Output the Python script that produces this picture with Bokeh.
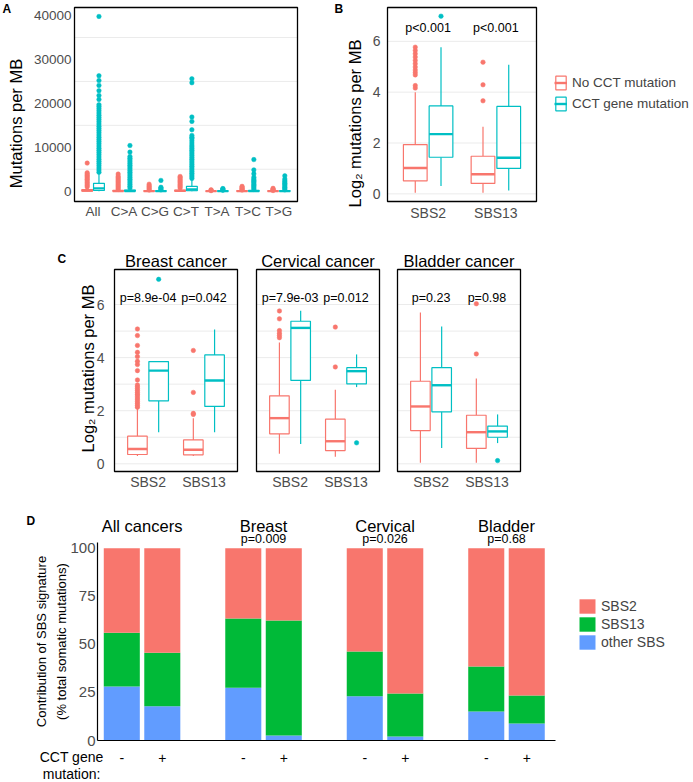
from bokeh.plotting import figure
from bokeh.models import ColumnDataSource, FixedTicker, Legend, LegendItem, Range1d
from bokeh.layouts import column, row
from bokeh.embed import file_html
from bokeh.resources import INLINE
from bokeh.core.properties import value

FONT = "Liberation Sans"
RED = "#F8766D"
TEAL = "#00BFC4"
GREEN = "#00BA38"
BLUE = "#619CFF"
GRID = "#EBEBEB"
TICK = "#4D4D4D"

# ---------------- Panel A data (mutations per MB) ----------------
a_cats = ["All", "C>A", "C>G", "C>T", "T>A", "T>C", "T>G"]
a_no_q1 = [30, 0, 0, 0, 0, 0, 0]
a_no_med = [120, 30, 20, 60, 10, 20, 10]
a_no_q3 = [350, 150, 80, 250, 40, 80, 50]
a_no_lo = [0, 0, 0, 0, 0, 0, 0]
a_no_hi = [800, 350, 200, 600, 100, 200, 120]
a_no_out = [
    [950, 1300, 1650, 2000, 2350, 2700, 3000, 3300, 3600, 3900, 4200, 6400],
    [400, 700, 1000, 1300, 1600, 1900, 2200, 2500, 2800, 3100, 3400, 3900],
    [250, 500, 750, 1000, 1250, 1600],
    [700, 1000, 1300, 1600, 1900, 2200, 2500, 2800, 3100, 3350],
    [130, 200, 300],
    [250, 450, 650, 850, 1100],
    [150, 300, 450, 650],
]
a_cct_q1 = [150, 0, 0, 100, 0, 0, 0]
a_cct_med = [650, 50, 20, 400, 20, 30, 20]
a_cct_q3 = [1800, 250, 100, 1100, 60, 150, 100]
a_cct_lo = [0, 0, 0, 0, 0, 0, 0]
a_cct_hi = [4000, 600, 250, 2700, 150, 350, 250]
a_cct_out = [
    [4300, 4800, 5300, 5800, 6300, 6800, 7300, 7800, 8300, 8800, 9300, 9800,
     10300, 10800, 11300, 11800, 12300, 12800, 13300, 13800, 14300, 14800,
     15300, 15800, 16300, 16800, 17300, 17800, 18300, 18800, 19300, 19700,
     20900, 21800, 22900, 24100, 25200, 26300, 39800],
    [700, 1100, 1500, 1900, 2300, 2700, 3100, 3500, 3900, 4300, 4700, 5100,
     5500, 5900, 6300, 6700, 7100, 7500, 7900, 8900, 10400],
    [300, 500, 700, 900, 2450],
    [2900, 3300, 3700, 4100, 4500, 4900, 5300, 5700, 6100, 6500, 6900, 7300,
     7700, 8100, 8500, 8900, 9300, 9700, 10100, 10500, 11000, 11500, 12000,
     12300, 12700, 14000, 15900, 16900, 24700, 25600],
    [200, 350, 500, 600],
    [400, 700, 1000, 1300, 1600, 1900, 2200, 2500, 2800, 3200, 3950, 4850, 7200],
    [300, 600, 900, 1200, 1500, 1800, 2100, 2400, 2800, 3500],
]

# ---------------- Panel B data (log2 mutations per MB) ----------------
b_cats = ["SBS2", "SBS13"]
b_groups = ["No CCT mutation", "CCT gene mutation"]
b_p = ["p<0.001", "p<0.001"]
b_no_q1 = [0.51, 0.41]
b_no_med = [1.02, 0.77]
b_no_q3 = [1.94, 1.48]
b_no_lo = [0.04, 0.04]
b_no_hi = [4.0, 2.64]
b_no_out = [[4.16, 4.26, 4.68, 4.77, 4.87, 4.99, 5.12, 5.25, 5.38, 5.51, 5.64, 5.77],
            [3.66, 4.29, 5.18]]
b_cct_q1 = [1.44, 1.0]
b_cct_med = [2.35, 1.42]
b_cct_q3 = [3.46, 3.44]
b_cct_lo = [0.31, 0.13]
b_cct_hi = [5.77, 5.08]
b_cct_out = [[6.99], []]

# ---------------- Panel C data (per cancer type) ----------------
c_titles = ["Breast cancer", "Cervical cancer", "Bladder cancer"]
c_p = [["p=8.9e-04", "p=0.042"], ["p=7.9e-03", "p=0.012"], ["p=0.23", "p=0.98"]]
c_no_q1 = [[0.35, 0.34], [1.13, 0.50], [1.25, 0.58]]
c_no_med = [[0.56, 0.53], [1.72, 0.85], [2.16, 1.19]]
c_no_q3 = [[1.04, 0.90], [2.56, 1.68], [3.11, 1.83]]
c_no_lo = [[0.29, 0.29], [0.38, 0.27], [0.04, 0.04]]
c_no_hi = [[2.08, 1.72], [4.57, 2.79], [5.70, 3.21]]
c_no_out = [
    [[2.13, 2.2, 2.27, 2.34, 2.41, 2.48, 2.55, 2.62, 2.69, 2.76, 2.83, 2.9, 2.97,
      3.16, 3.51, 3.74, 3.86, 4.04, 4.2, 4.46, 4.83, 5.08],
     [1.86, 1.9, 2.69, 4.27]],
    [[4.75, 4.83, 4.92, 5.02, 5.46, 5.76], [3.65, 5.15]],
    [[], [4.14, 6.03]],
]
c_cct_q1 = [[2.37, 2.16], [3.14, 3.01], [1.96, 1.00]]
c_cct_med = [[3.51, 3.14], [5.12, 3.49], [2.96, 1.22]]
c_cct_q3 = [[3.85, 4.10], [5.37, 3.62], [3.62, 1.42]]
c_cct_lo = [[1.19, 1.19], [0.75, 2.89], [0.60, 0.78]]
c_cct_hi = [[3.85, 5.06], [5.77, 4.12], [5.17, 1.86]]
c_cct_out = [[[6.95], []], [[], [0.79]], [[], [0.12]]]

# ---------------- Panel D data (% of total somatic mutations) ----------------
d_groups = ["All cancers", "Breast", "Cervical", "Bladder"]
d_pvals = ["", "p=0.009", "p=0.026", "p=0.68"]
d_status = ["-", "+"]
d_series = ["SBS2", "SBS13", "other SBS"]
d_other = [28.1, 17.8, 27.4, 2.6, 23.0, 2.1, 15.1, 8.8]
d_sbs13 = [27.9, 27.8, 36.0, 59.8, 23.3, 22.3, 23.4, 14.6]
d_sbs2 = [44.0, 54.4, 36.6, 37.6, 53.7, 75.6, 61.5, 76.6]

DODGE = 0.19
BOXW = 0.35


def full_ranges(W, H, pl, pr, pt, pb, x0, x1, y0, y1):
    """Ranges for a figure whose frame is the whole canvas, so that the data
    box [x0,x1]x[y0,y1] lands on the pixel box (pl..pr, pt..pb)."""
    sx = (pr - pl) / (x1 - x0)
    sy = (pb - pt) / (y1 - y0)
    return Range1d(x0 - pl / sx, x1 + (W - pr) / sx), Range1d(y0 - (H - pb) / sy, y1 + pt / sy)


def px2data(p, W, H, px, py):
    xr, yr = p.x_range, p.y_range
    return (xr.start + px / W * (xr.end - xr.start), yr.end - py / H * (yr.end - yr.start))


def make_fig(W, H, xr, yr):
    p = figure(width=W, height=H, x_range=xr, y_range=yr, title=None,
               output_backend="svg", toolbar_location=None,
               min_border_left=0, min_border_right=0, min_border_top=0, min_border_bottom=0)
    p.background_fill_color = "white"
    p.border_fill_color = "white"
    p.outline_line_color = None
    p.grid.visible = False
    for ax in (p.xaxis[0], p.yaxis[0]):
        ax.major_tick_line_color = None
        ax.minor_tick_line_color = None
        ax.major_tick_out = 0
        ax.major_tick_in = 0
        ax.minor_tick_out = 0
        ax.minor_tick_in = 0
        ax.axis_line_color = None
        ax.major_label_text_font = FONT
        ax.major_label_text_color = TICK
        ax.axis_label_text_font = FONT
        ax.axis_label_text_font_style = "normal"
        ax.axis_label_text_color = "black"
        ax.axis_label_text_font_size = "16.5px"
    return p


def hgrid(p, x0, x1, ticks):
    p.segment(x0=[x0] * len(ticks), y0=ticks, x1=[x1] * len(ticks), y1=ticks,
              line_color=GRID, line_width=1)


def border(p, x0, x1, y0, y1):
    p.quad(left=[x0], right=[x1], bottom=[y0], top=[y1], fill_color=None,
           line_color="black", line_width=1.3)


def boxes(p, centers, q1, med, q3, lo, hi, outs, color, lw=1.2, dot=4.5):
    xl = [c - BOXW / 2 for c in centers]
    xr = [c + BOXW / 2 for c in centers]
    src = ColumnDataSource(dict(x=centers, xl=xl, xr=xr, q1=q1, med=med, q3=q3, lo=lo, hi=hi))
    ox = [c for c, o in zip(centers, outs) for _ in o]
    oy = [v for o in outs for v in o]
    p.scatter(x=ox, y=oy, size=dot, fill_color=color, line_color=color, line_width=0.5)
    p.segment(x0="x", y0="lo", x1="x", y1="q1", source=src, line_color=color, line_width=lw)
    p.segment(x0="x", y0="q3", x1="x", y1="hi", source=src, line_color=color, line_width=lw)
    rq = p.quad(left="xl", right="xr", bottom="q1", top="q3", source=src,
                fill_color="white", line_color=color, line_width=lw)
    rm = p.segment(x0="xl", y0="med", x1="xr", y1="med", source=src,
                   line_color=color, line_width=lw * 2)
    return rq, rm


def text(p, xs, ys, texts, size, align="center", bold=False, baseline="middle"):
    p.text(x=xs, y=ys, text=texts, text_font=value(FONT), text_font_size=size,
           text_font_style="bold" if bold else "normal", text_align=align,
           text_baseline=baseline, text_color="black")


def letter(p, W, H, px, py, txt):
    x, y = px2data(p, W, H, px, py)
    text(p, [x], [y], [txt], "12px", align="left", bold=True)


# ================= Panel A =================
WA, HA = 300, 246
xrA, yrA = full_ranges(WA, HA, 74, 297, 7, 201, 0.4, 7.6, -2350, 41840)
pA = make_fig(WA, HA, xrA, yrA)
nA = len(a_cats)
hgrid(pA, 0.4, 7.6, [5000, 15000, 25000, 35000])
pA.yaxis.fixed_location = 0.4
pA.xaxis.fixed_location = -2350
pA.yaxis.ticker = FixedTicker(ticks=[0, 10000, 20000, 30000, 40000])
pA.xaxis.ticker = FixedTicker(ticks=list(range(1, nA + 1)))
pA.xaxis.major_label_overrides = {i + 1: c for i, c in enumerate(a_cats)}
pA.yaxis.axis_label = "Mutations per MB"
pA.xaxis.major_label_text_font_size = "13.5px"
pA.yaxis.major_label_text_font_size = "13.5px"
pA.xaxis.major_label_standoff = 2
pA.yaxis.major_label_standoff = 3
pA.yaxis.axis_label_standoff = 6
boxes(pA, [i + 1 - DODGE for i in range(nA)], a_no_q1, a_no_med, a_no_q3, a_no_lo, a_no_hi, a_no_out, RED)
boxes(pA, [i + 1 + DODGE for i in range(nA)], a_cct_q1, a_cct_med, a_cct_q3, a_cct_lo, a_cct_hi, a_cct_out, TEAL)
border(pA, 0.4, 7.6, -2350, 41840)
letter(pA, WA, HA, 2, 8.5, "A")

# ================= Panel B =================
WB, HB = 393, 246
xrB, yrB = full_ranges(WB, HB, 87, 236, 7, 201, 0.4, 2.6, -0.30, 7.33)
pB = make_fig(WB, HB, xrB, yrB)
hgrid(pB, 0.4, 2.6, [0, 2, 4, 6])
pB.yaxis.fixed_location = 0.4
pB.xaxis.fixed_location = -0.30
pB.yaxis.ticker = FixedTicker(ticks=[0, 2, 4, 6])
pB.xaxis.ticker = FixedTicker(ticks=[1, 2])
pB.xaxis.major_label_overrides = {i + 1: c for i, c in enumerate(b_cats)}
pB.yaxis.axis_label = "Log\u2082 mutations per MB"
pB.xaxis.major_label_text_font_size = "14px"
pB.yaxis.major_label_text_font_size = "14px"
pB.xaxis.major_label_standoff = 3
pB.yaxis.major_label_standoff = 7
pB.yaxis.axis_label_standoff = 6
bx = [i + 1 for i in range(len(b_cats))]
r_no = boxes(pB, [x - DODGE for x in bx], b_no_q1, b_no_med, b_no_q3, b_no_lo, b_no_hi, b_no_out, RED)
r_cct = boxes(pB, [x + DODGE for x in bx], b_cct_q1, b_cct_med, b_cct_q3, b_cct_lo, b_cct_hi, b_cct_out, TEAL)
border(pB, 0.4, 2.6, -0.30, 7.33)
text(pB, bx, [6.54] * len(bx), b_p, "12.5px")
letter(pB, WB, HB, 34, 8.5, "B")
legB = Legend(items=[LegendItem(label=b_groups[0], renderers=list(r_no)),
                     LegendItem(label=b_groups[1], renderers=list(r_cct))],
              location=(254, 134), glyph_width=13, glyph_height=17, label_height=17,
              spacing=4, padding=0, margin=0, label_standoff=5,
              label_text_font=FONT, label_text_font_size="13.5px",
              border_line_color=None, background_fill_alpha=0)
pB.add_layout(legB)

# ================= Panel C =================
WC, HC = 693, 244
c_left_px = [114, 256, 397]
xrC, yrC = full_ranges(WC, HC, 114, 237, 23, 225, 0.4, 2.6, -0.29, 7.32)
pC = make_fig(WC, HC, xrC, yrC)
sxC = 123 / 2.2
c_off = [(L - c_left_px[0]) / sxC for L in c_left_px]
pC.yaxis.fixed_location = 0.4
pC.xaxis.fixed_location = -0.29
pC.yaxis.ticker = FixedTicker(ticks=[0, 2, 4, 6])
c_ticks = [off + x for off in c_off for x in bx]
c_ticklab = [c for off in c_off for c in b_cats]
pC.xaxis.ticker = FixedTicker(ticks=c_ticks)
pC.xaxis.major_label_overrides = {t: l for t, l in zip(c_ticks, c_ticklab)}
pC.xaxis.major_label_text_font_size = "14px"
pC.xaxis.major_label_standoff = 2
pC.yaxis.major_label_text_font_size = "14px"
pC.yaxis.major_label_standoff = 10
pC.yaxis.axis_label = "Log\u2082 mutations per MB"
pC.yaxis.axis_label_standoff = -3
_, title_y = px2data(pC, WC, HC, 0, 14)
for k, off in enumerate(c_off):
    hgrid(pC, off + 0.4, off + 2.6, [0, 1, 2, 3, 4, 5, 6])
    boxes(pC, [off + x - DODGE for x in bx], c_no_q1[k], c_no_med[k], c_no_q3[k], c_no_lo[k],
          c_no_hi[k], c_no_out[k], RED)
    boxes(pC, [off + x + DODGE for x in bx], c_cct_q1[k], c_cct_med[k], c_cct_q3[k], c_cct_lo[k],
          c_cct_hi[k], c_cct_out[k], TEAL)
    border(pC, off + 0.4, off + 2.6, -0.29, 7.32)
    text(pC, [off + x for x in bx], [6.25] * len(bx), c_p[k], "12.5px")
text(pC, [off + 1.5 for off in c_off], [title_y] * len(c_off), c_titles, "16.5px")
letter(pC, WC, HC, 57, 12.5, "C")

# ================= Panel D =================
WD, HD = 693, 292
xrD, yrD = full_ranges(WD, HD, 97, 555, 52, 250, -0.6, 10.71, 0, 102.96)
pD = make_fig(WD, HD, xrD, yrD)
d_x = [3 * g + s for g in range(len(d_groups)) for s in range(len(d_status))]
d_lab = [d_status[s] for g in range(len(d_groups)) for s in range(len(d_status))]
srcD = ColumnDataSource(dict(x=d_x, other=d_other, sbs13=d_sbs13, sbs2=d_sbs2))
rD = pD.vbar_stack(["other", "sbs13", "sbs2"], x="x", width=0.89, source=srcD,
                   color=[BLUE, GREEN, RED], line_width=0)
pD.yaxis.fixed_location = -0.6
pD.xaxis.fixed_location = 0
pD.yaxis.bounds = (0, 102.96)
pD.xaxis.bounds = (-0.6, 10.71)
pD.xaxis.ticker = FixedTicker(ticks=d_x)
pD.xaxis.major_label_overrides = {x: l for x, l in zip(d_x, d_lab)}
pD.xaxis.major_label_text_font_size = "14px"
pD.xaxis.major_label_text_color = "black"
pD.xaxis.major_label_standoff = 12
pD.yaxis.ticker = FixedTicker(ticks=[0, 25, 50, 75, 100])
pD.yaxis.major_label_text_font_size = "15px"
pD.yaxis.major_label_standoff = 2
pD.yaxis.axis_label = "Contribution of SBS signature\n(% total somatic mutations)"
pD.yaxis.axis_label_text_font_size = "13px"
pD.yaxis.axis_label_text_line_height = 1.38
pD.yaxis.axis_label_standoff = -2
for ax in (pD.xaxis[0], pD.yaxis[0]):
    ax.axis_line_color = "black"
    ax.axis_line_width = 1.2
g_cent = [3 * g + 0.5 for g in range(len(d_groups))]
text(pD, g_cent, [111.8] * len(g_cent), d_groups, "16.5px")
text(pD, g_cent, [104.9] * len(g_cent), d_pvals, "12.5px")
text(pD, [-1.24, -1.24], [-8.7, -17.2], ["CCT gene", "mutation:"], "14px")
letter(pD, WD, HD, 26, 30, "D")
legD = Legend(items=[LegendItem(label=d_series[0], renderers=[rD[2]]),
                     LegendItem(label=d_series[1], renderers=[rD[1]]),
                     LegendItem(label=d_series[2], renderers=[rD[0]])],
              location=(577, 131), glyph_width=20, glyph_height=18, label_height=18,
              spacing=0, padding=0, margin=0, label_standoff=4,
              label_text_font=FONT, label_text_font_size="14px",
              border_line_color=None, background_fill_alpha=0)
pD.add_layout(legD)

layout = column(row(pA, pB), pC, pD)
open("out.html", "w").write(file_html(layout, INLINE))
